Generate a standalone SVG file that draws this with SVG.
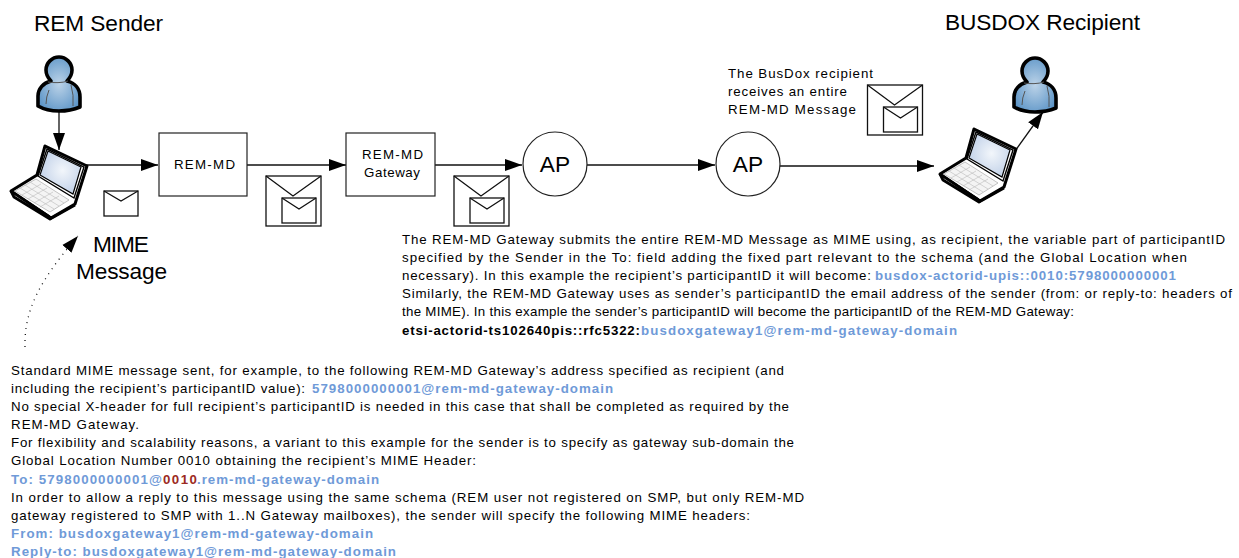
<svg xmlns="http://www.w3.org/2000/svg" xmlns:xlink="http://www.w3.org/1999/xlink" width="1239" height="558" viewBox="0 0 1239 558">
<style>
text{font-family:"Liberation Sans",Arial,sans-serif;fill:#000}
.t{font-size:13.3px}
.b{font-size:13.3px;font-weight:bold}
.blue{fill:#6f9ad8}
.red{fill:#9c2a22}
.h{font-size:22.7px}
.box{fill:#fff;stroke:#222;stroke-width:1.2}
.lbl{font-size:13.3px;text-anchor:middle}
.ap{font-size:22.7px;text-anchor:middle}
.env{fill:#fff;stroke:#111;stroke-width:1.3}
.c{fill:none;stroke:#111;stroke-width:1.3}
</style>
<defs>
<marker id="arr" markerUnits="userSpaceOnUse" markerWidth="18" markerHeight="14" refX="17" refY="7" orient="auto"><path d="M0 1L17 7L0 13Z" fill="#000"/></marker>
<radialGradient id="pg" cx="50%" cy="50%" r="60%"><stop offset="0" stop-color="#bcd3e8"/><stop offset="1" stop-color="#5a93c6"/></radialGradient>
<radialGradient id="sg" cx="55%" cy="45%" r="65%"><stop offset="0" stop-color="#f2f6fb"/><stop offset="1" stop-color="#bccde6"/></radialGradient>
<g id="person">
<path d="M59 57C66 57 72 63 72 70C72 75 70 78 67 81C75 83 80 89 80 97L80 107C73 110 66 111 59 111C52 111 45 110 38 106L38 96C38 89 43 83 51 81C48 78 46 75 46 70C46 63 52 57 59 57Z" fill="url(#pg)" stroke="#000" stroke-width="3.6" stroke-linejoin="round"/>
<path d="M48 82C54 83 62 83 68 81M49 90Q46 97 46 104M71 85Q74 95 73 106" fill="none" stroke="#555" stroke-width="1"/>
</g>
<g id="laptop">
<path d="M11 191L37 175L45 146L87 166L75 204L51 218Z" fill="#fff" stroke="#000" stroke-width="3" stroke-linejoin="round"/>
<path d="M11 191L14 197L50 219L75 205" fill="none" stroke="#000" stroke-width="2.8" stroke-linejoin="round"/>
<path d="M47 149L84 167L74 198L38 176Z" fill="#fff" stroke="#000" stroke-width="1.4"/>
<path d="M48 151L81 167L73 194L40 175Z" fill="url(#sg)" stroke="#000" stroke-width="1.2"/>
<path d="M15 191L36 179L69 200L50 212Z" fill="#f4f4f4" stroke="#aaa" stroke-width=".7"/>
<path d="M20 188L54 209M25 185L59 206M30 182L64 203M22 195L41 184M28 199L47 188M34 203L53 192M40 207L59 196" fill="none" stroke="#bbb" stroke-width=".6"/>
<path d="M12 191L50 216" fill="none" stroke="#000" stroke-width="1"/>
</g>
<g id="env1"><rect class="env" x="0" y="0" width="55" height="50"/><path class="c" d="M0 0L27 20L55 0"/><rect class="env" x="16" y="22" width="34" height="25"/><path class="c" d="M16 22L33 33L50 22"/></g>
</defs>

<g id="connectors">
<path class="c" d="M59 112V150" marker-end="url(#arr)"/>
<path class="c" d="M86 165H158" marker-end="url(#arr)"/>
<path class="c" d="M247 165H346" marker-end="url(#arr)"/>
<path class="c" d="M435 165H522" marker-end="url(#arr)"/>
<path class="c" d="M587 165H715" marker-end="url(#arr)"/>
<path class="c" d="M780 166H934" marker-end="url(#arr)"/>
<path class="c" d="M1015 151L1043 112" marker-end="url(#arr)"/>
<path class="c" d="M25 347C24 310 40 280 78 236" stroke-dasharray="1 5" marker-end="url(#arr)"/>
</g>

<g id="sender-title"><text class="h" x="34" y="31" textLength="129">REM Sender</text></g>
<g id="recipient-title"><text class="h" x="945" y="30" textLength="195">BUSDOX Recipient</text></g>
<g id="sender-person"><use href="#person"/></g>
<g id="sender-laptop"><use href="#laptop"/></g>
<g id="recipient-person"><use href="#person" x="976" y="1"/></g>
<g id="recipient-laptop"><use href="#laptop" x="929" y="-17"/></g>

<g id="rem-md"><rect class="box" x="159" y="133" width="88" height="63"/><text class="lbl" x="204.500" y="169" textLength="61">REM-MD</text></g>
<g id="gateway"><rect class="box" x="346" y="133" width="89" height="63"/><text class="lbl" x="392.500" y="159" textLength="61">REM-MD</text><text class="lbl" x="392" y="177" textLength="56">Gateway</text></g>
<g id="ap1"><circle class="box" cx="555" cy="164" r="32"/><text class="ap" x="555" y="172">AP</text></g>
<g id="ap2"><circle class="box" cx="748" cy="164" r="32"/><text class="ap" x="748" y="172">AP</text></g>

<g id="mime-envelope"><rect class="env" x="104" y="191" width="34" height="25"/><path class="c" d="M104 191L121 201L138 191"/></g>
<g id="envelope-a"><use href="#env1" x="266" y="176"/></g>
<g id="envelope-b"><use href="#env1" x="454" y="176"/></g>
<g id="envelope-c"><use href="#env1" x="867.5" y="85"/></g>

<g id="mime-label"><text class="h" x="121" y="252" text-anchor="middle" textLength="56">MIME</text><text class="h" x="121.500" y="279" text-anchor="middle" textLength="91">Message</text></g>
<g id="recipient-note">
<text class="t" x="728" y="78" textLength="145">The BusDox recipient</text>
<text class="t" x="728" y="96" textLength="119">receives an entire</text>
<text class="t" x="728" y="114" textLength="128">REM-MD Message</text>
</g>

<g id="gateway-note">
<text class="t" x="402" y="244" textLength="823">The REM-MD Gateway submits the entire REM-MD Message as MIME using, as recipient, the variable part of participantID</text>
<text class="t" x="402" y="262" textLength="785">specified by the Sender in the To: field adding the fixed part relevant to the schema (and the Global Location when</text>
<text class="t" x="402" y="280" textLength="469">necessary). In this example the recipient’s participantID it will become:</text>
<text class="b blue" x="875" y="280" textLength="301">busdox-actorid-upis::0010:5798000000001</text>
<text class="t" x="402" y="298" textLength="830">Similarly, the REM-MD Gateway uses as sender’s participantID the email address of the sender (from: or reply-to: headers of</text>
<text class="t" x="402" y="316" textLength="672">the MIME). In this example the sender’s participantID will become the participantID of the REM-MD Gateway:</text>
<text class="b" x="402" y="335" textLength="238">etsi-actorid-ts102640pis::rfc5322:</text>
<text class="b blue" x="641" y="335" textLength="316">busdoxgateway1@rem-md-gateway-domain</text>
</g>

<g id="mime-note">
<text class="t" x="11" y="375" textLength="773">Standard MIME message sent, for example, to the following REM-MD Gateway’s address specified as recipient (and</text>
<text class="t" x="11" y="393" textLength="294">including the recipient’s participantID value):</text>
<text class="b blue" x="312" y="393" textLength="301">5798000000001@rem-md-gateway-domain</text>
<text class="t" x="11" y="411" textLength="778">No special X-header for full recipient’s participantID is needed in this case that shall be completed as required by the</text>
<text class="t" x="11" y="429" textLength="128">REM-MD Gateway.</text>
<text class="t" x="11" y="447" textLength="783">For flexibility and scalability reasons, a variant to this example for the sender is to specify as gateway sub-domain the</text>
<text class="t" x="11" y="465" textLength="465">Global Location Number 0010 obtaining the recipient’s MIME Header:</text>
<text class="b blue" x="11" y="484" textLength="151">To: 5798000000001@</text>
<text class="b red" x="163" y="484" textLength="34">0010</text>
<text class="b blue" x="197" y="484" textLength="182">.rem-md-gateway-domain</text>
<text class="t" x="11" y="502" textLength="793">In order to allow a reply to this message using the same schema (REM user not registered on SMP, but only  REM-MD</text>
<text class="t" x="11" y="520" textLength="739">gateway registered to SMP with 1..N Gateway mailboxes), the sender will specify the following MIME headers:</text>
<text class="b blue" x="11" y="538" textLength="362">From: busdoxgateway1@rem-md-gateway-domain</text>
<text class="b blue" x="11" y="556" textLength="385">Reply-to: busdoxgateway1@rem-md-gateway-domain</text>
</g>
</svg>
